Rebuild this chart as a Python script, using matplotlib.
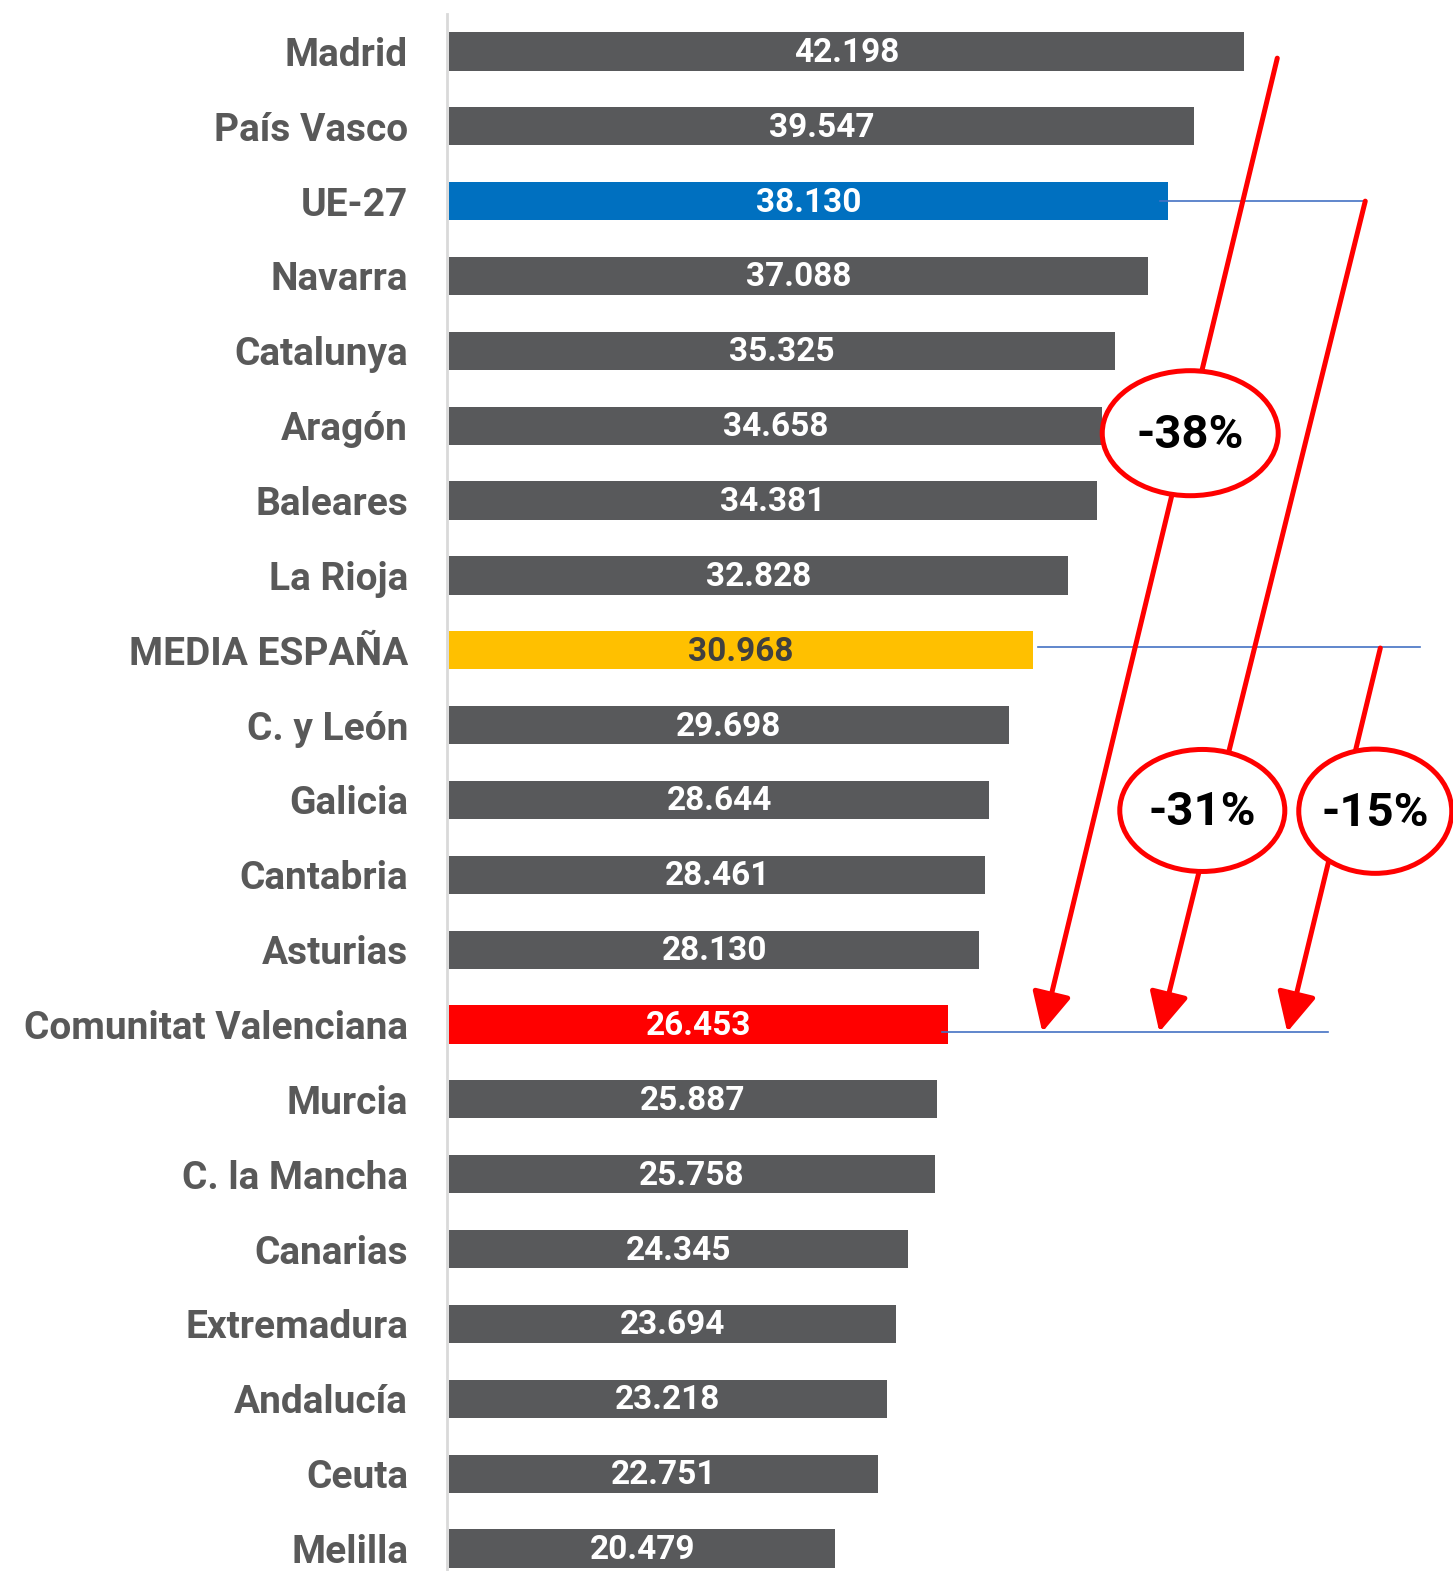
import matplotlib
matplotlib.use("Agg")
import matplotlib.pyplot as plt
from matplotlib.patches import Ellipse

# data
regions = ["Madrid", "País Vasco", "UE-27", "Navarra", "Catalunya", "Aragón",
           "Baleares", "La Rioja", "MEDIA ESPAÑA", "C. y León", "Galicia",
           "Cantabria", "Asturias", "Comunitat Valenciana", "Murcia",
           "C. la Mancha", "Canarias", "Extremadura", "Andalucía", "Ceuta",
           "Melilla"]
values = [42.198, 39.547, 38.130, 37.088, 35.325, 34.658, 34.381, 32.828,
          30.968, 29.698, 28.644, 28.461, 28.130, 26.453, 25.887, 25.758,
          24.345, 23.694, 23.218, 22.751, 20.479]
value_labels = ["42.198", "39.547", "38.130", "37.088", "35.325", "34.658",
                "34.381", "32.828", "30.968", "29.698", "28.644", "28.461",
                "28.130", "26.453", "25.887", "25.758", "24.345", "23.694",
                "23.218", "22.751", "20.479"]

# gaps against Comunitat Valenciana: (reference, label)
gaps = [("Madrid", "-38%"), ("UE-27", "-31%"), ("MEDIA ESPAÑA", "-15%")]

GREY = "#58595b"
LABEL_GREY = "#595959"
special = {"UE-27": "#0070c0", "MEDIA ESPAÑA": "#ffc000",
           "Comunitat Valenciana": "#ff0000"}
colors = [special.get(r, GREY) for r in regions]
FONT = "Roboto"

fig = plt.figure(figsize=(14.53, 15.71), dpi=100)
ax = fig.add_axes([447 / 1453, 0, 1 - 447 / 1453, 1 - 14 / 1571])

ypos = list(range(len(regions)))
ax.barh(ypos, values, height=0.51, color=colors, zorder=2)

ax.set_xlim(-0.12, 1006 / 18.84 - 0.12)
ax.set_ylim(20.30, -0.50)
ax.set_yticks(ypos)
ax.set_yticklabels(regions, fontsize=28, fontweight="bold", color=LABEL_GREY,
                   family=FONT)
ax.tick_params(axis="y", length=0, pad=28)
ax.set_xticks([])
for s in ["top", "right", "bottom"]:
    ax.spines[s].set_visible(False)
ax.spines["left"].set_color("#d9d9d9")
ax.spines["left"].set_linewidth(2)

for y, v, lab, r in zip(ypos, values, value_labels, regions):
    tc = "#404040" if r == "MEDIA ESPAÑA" else "white"
    ax.text(v / 2, y + 0.02, lab, ha="center", va="center", fontsize=24,
            fontweight="bold", color=tc, family=FONT, zorder=3)

# reference lines
BLUE = "#4472c4"
iu = regions.index("UE-27")
im = regions.index("MEDIA ESPAÑA")
ic = regions.index("Comunitat Valenciana")
ax.plot([values[iu] - 0.4, 48.62], [iu, iu], color=BLUE, lw=1.2, zorder=4)
ax.plot([values[im] + 0.3, 51.54], [im - 0.05, im - 0.05], color=BLUE, lw=1.2, zorder=4)
ax.plot([values[ic] - 0.3, 46.66], [ic + 0.1, ic + 0.1], color=BLUE, lw=1.2, zorder=4)

# arrows and bubbles
arrow_x = {"Madrid": (43.95, 31.48), "UE-27": (48.62, 37.69),
           "MEDIA ESPAÑA": (49.42, 44.48)}
arrow_y0 = {"Madrid": 0.09, "UE-27": 2.0, "MEDIA ESPAÑA": 7.97}
bubbles = {"Madrid": (39.33, 5.10, 9.34, 1.67),
           "UE-27": (39.97, 10.14, 8.76, 1.63),
           "MEDIA ESPAÑA": (49.15, 10.15, 8.12, 1.66)}

for ref, txt in gaps:
    x0, x1 = arrow_x[ref]
    ax.annotate("", xy=(x1, ic + 0.1), xytext=(x0, arrow_y0[ref]),
                arrowprops=dict(arrowstyle="-|>,head_length=1.0,head_width=0.5",
                                color="#ff0000", lw=3.6, mutation_scale=24,
                                shrinkA=0, shrinkB=0),
                zorder=5, annotation_clip=False)
    cx, cy, w, h = bubbles[ref]
    ax.add_patch(Ellipse((cx, cy), w, h, facecolor="white", edgecolor="#ff0000",
                         lw=3.6, zorder=6, clip_on=False))
    ax.text(cx, cy + 0.02, txt, ha="center", va="center", fontsize=34,
            fontweight="bold", color="black", family=FONT, zorder=7)

fig.savefig("out.png", dpi=100)
